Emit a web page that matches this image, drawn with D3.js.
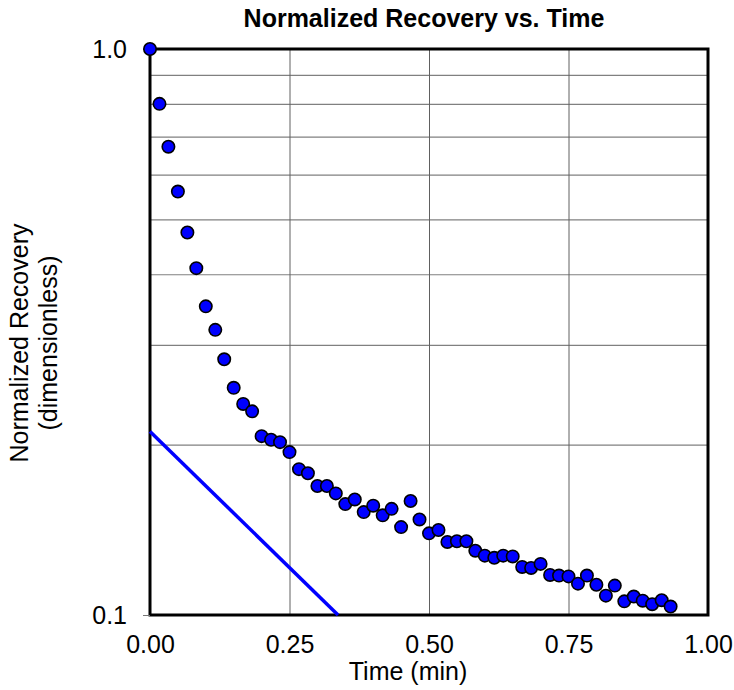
<!DOCTYPE html>
<html>
<head>
<meta charset="utf-8">
<script src="https://cdn.jsdelivr.net/npm/d3@7"></script>
<style>
  body { margin: 0; background: #fff; }
  text { font-family: "Liberation Sans", Arial, sans-serif; fill: #000; }
</style>
</head>
<body>
<div id="chart"></div>
<script>
// data
const timeMin = [0.000, 0.017, 0.033, 0.050, 0.067, 0.083, 0.100, 0.117, 0.133, 0.150,
                 0.167, 0.183, 0.200, 0.217, 0.233, 0.250, 0.267, 0.283, 0.300, 0.317,
                 0.333, 0.350, 0.367, 0.383, 0.400, 0.417, 0.433, 0.450, 0.467, 0.483,
                 0.500, 0.517, 0.533, 0.550, 0.567, 0.583, 0.600, 0.617, 0.633, 0.650,
                 0.667, 0.683, 0.700, 0.717, 0.733, 0.750, 0.767, 0.783, 0.800, 0.817,
                 0.833, 0.850, 0.867, 0.883, 0.900, 0.917, 0.933];
const recovery = [1.000, 0.800, 0.672, 0.560, 0.474, 0.410, 0.351, 0.319, 0.283, 0.252,
                  0.236, 0.229, 0.207, 0.204, 0.202, 0.194, 0.181, 0.178, 0.169, 0.169,
                  0.164, 0.157, 0.160, 0.152, 0.156, 0.150, 0.154, 0.143, 0.159, 0.1475,
                  0.1394, 0.1413, 0.1346, 0.135, 0.135, 0.1299, 0.1273, 0.1262, 0.1273, 0.1269,
                  0.1216, 0.1211, 0.1231, 0.1177, 0.1174, 0.1170, 0.1136, 0.1174, 0.1131, 0.1082,
                  0.1127, 0.1057, 0.1078, 0.106, 0.1045, 0.1062, 0.1035];
// straight fitted line (log scale)
const lineTime = [0, 0.337];
const lineRecovery = [0.211, 0.1];

const xTicks = [0, 0.25, 0.5, 0.75, 1];
const xGrid = [0.25, 0.5, 0.75];
const yTicks = [0.1, 1];
const yGrid = [0.2, 0.3, 0.4, 0.5, 0.6, 0.7, 0.8, 0.9];

const width = 734, height = 690;
const plot = {left: 150, right: 708, top: 49, bottom: 615};

const svg = d3.select('#chart')
  .append('svg')
    .attr('width', width)
    .attr('height', height);

const x = d3.scaleLinear().domain([0, 1]).range([plot.left, plot.right]);
const y = d3.scaleLog().domain([0.1, 1]).range([plot.bottom, plot.top]);

// gridlines
svg.append('g')
    .attr('transform', `translate(${plot.left},0)`)
    .call(d3.axisLeft(y).tickValues(yGrid).tickSize(-(plot.right - plot.left)).tickFormat(''))
    .call(g => g.select('.domain').remove())
    .call(g => g.selectAll('line').attr('stroke', '#808080').attr('stroke-width', 1.2));

svg.append('g')
    .attr('transform', `translate(0,${plot.bottom})`)
    .call(d3.axisBottom(x).tickValues(xGrid).tickSize(-(plot.bottom - plot.top)).tickFormat(''))
    .call(g => g.select('.domain').remove())
    .call(g => g.selectAll('line').attr('stroke', '#606060').attr('stroke-width', 1));

// frame
svg.append('rect')
    .attr('x', plot.left)
    .attr('y', plot.top)
    .attr('width', plot.right - plot.left)
    .attr('height', plot.bottom - plot.top)
    .attr('fill', 'none')
    .attr('stroke', '#000')
    .attr('stroke-width', 3);

// y axis labels
svg.append('g')
    .attr('transform', `translate(${plot.left},0)`)
    .call(d3.axisLeft(y).tickValues(yTicks).tickFormat(d3.format('.1f')).tickSize(7).tickPadding(16))
    .call(g => g.select('.domain').remove())
    .call(g => g.selectAll('line').attr('stroke', '#777'))
    .call(g => g.selectAll('text').attr('font-size', '25px').attr('font-family', null));

// x axis labels
svg.append('g')
    .attr('transform', `translate(0,${plot.bottom})`)
    .call(d3.axisBottom(x).tickValues(xTicks).tickFormat(d3.format('.2f')).tickSize(0).tickPadding(20))
    .call(g => g.select('.domain').remove())
    .call(g => g.selectAll('text').attr('font-size', '25px').attr('font-family', null));

// fitted line
const lineData = lineTime.map((t, i) => ({t: t, v: lineRecovery[i]}));
svg.append('path')
    .datum(lineData)
    .attr('d', d3.line().x(d => x(d.t)).y(d => y(d.v)))
    .attr('fill', 'none')
    .attr('stroke', '#0000ff')
    .attr('stroke-width', 3.5);

// data points
const points = timeMin.map((t, i) => ({t: t, v: recovery[i]}));
svg.append('g')
  .selectAll('circle')
  .data(points)
  .join('circle')
    .attr('cx', d => x(d.t))
    .attr('cy', d => y(d.v))
    .attr('r', 6.2)
    .attr('fill', '#0000ff')
    .attr('stroke', '#000')
    .attr('stroke-width', 1.6);

// titles
svg.append('text')
    .attr('x', 424)
    .attr('y', 27)
    .attr('text-anchor', 'middle')
    .attr('font-size', '25px')
    .attr('font-weight', 'bold')
    .text('Normalized Recovery vs. Time');

svg.append('text')
    .attr('x', 408)
    .attr('y', 680)
    .attr('text-anchor', 'middle')
    .attr('font-size', '25px')
    .text('Time (min)');

svg.append('text')
    .attr('transform', 'translate(28,343) rotate(-90)')
    .attr('text-anchor', 'middle')
    .attr('font-size', '25px')
    .text('Normalized Recovery');

svg.append('text')
    .attr('transform', 'translate(57,343) rotate(-90)')
    .attr('text-anchor', 'middle')
    .attr('font-size', '25px')
    .text('(dimensionless)');
</script>
</body>
</html>
